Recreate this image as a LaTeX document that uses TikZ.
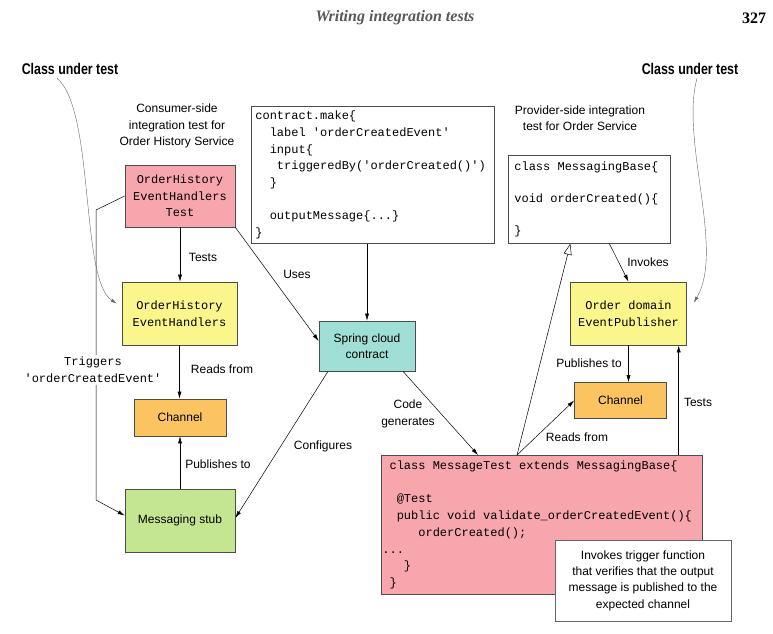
\documentclass[tikz,border=0pt]{standalone}
\usepackage{fontspec}
\setmainfont{Liberation Serif}
\setsansfont{Liberation Sans}
\setmonofont{Liberation Mono}
\newfontfamily\condfont{Liberation Sans}[FakeStretch=0.8]
\usepackage{tikz}
\usetikzlibrary{arrows.meta,positioning}

\definecolor{testpink}{RGB}{247,166,173}
\definecolor{handyellow}{RGB}{250,246,140}
\definecolor{chanorange}{RGB}{251,196,96}
\definecolor{stubgreen}{RGB}{196,229,146}
\definecolor{springteal}{RGB}{160,223,214}

\begin{document}
\begin{tikzpicture}[x=1pt,y=-1pt,
  box/.style={draw=black!70, line width=0.7pt, inner sep=0pt, align=center},
  lbl/.style={font=\sffamily\fontsize{12}{16.5}\selectfont, align=center},
  code/.style={font=\ttfamily\fontsize{12}{16.6}\selectfont, execute at begin node={\spaceskip 7.2pt\relax}},
  hdr/.style={font=\condfont\bfseries\fontsize{15.5}{17}\selectfont},
  arr/.style={draw, line width=0.5pt, -{Latex[length=7pt,width=4pt]}},
  curvearr/.style={draw=black!60, line width=0.4pt, -{Latex[length=6pt,width=3.5pt]}}]

\useasboundingbox (0,0) rectangle (773,633);

% page header
\node[font=\rmfamily\bfseries\itshape\fontsize{16}{18}\selectfont, text=black!65] (head) at (395,18) {Writing integration tests};
\node[font=\rmfamily\bfseries\fontsize{16}{18}\selectfont] (page) at (754,18) {327};

% consumer side
\node[hdr] (cutL) at (70,69) {Class under test};
\node[lbl] (consumer) at (177,126) {Consumer-side\\integration test for\\Order History Service};
\node[box, code, fill=testpink, minimum width=110pt, minimum height=62pt] (test) at (180,196) {OrderHistory\\EventHandlers\\Test};
\node[box, code, fill=handyellow, minimum width=115pt, minimum height=63pt] (handlers) at (179.5,313.5) {OrderHistory\\EventHandlers};
\node[box, lbl, fill=chanorange, minimum width=92pt, minimum height=37pt] (chanL) at (180,417.5) {Channel};
\node[box, lbl, fill=stubgreen, minimum width=110pt, minimum height=63pt] (stub) at (180,520.5) {Messaging stub};

% contract
\node[box, code, fill=white, anchor=north west, align=left, text width=235pt, minimum height=137pt, inner xsep=4pt] (contract) at (251,106) {contract.make\{\\
\phantom{xx}label 'orderCreatedEvent'\\
\phantom{xx}input\{\\
\phantom{xxx}triggeredBy('orderCreated()')\\
\phantom{xx}\}\\
\mbox{}\\
\phantom{xx}outputMessage\{...\}\\
\}};
\node[box, lbl, fill=springteal, minimum width=96pt, minimum height=50pt] (spring) at (367,346) {Spring cloud\\contract};

% provider side
\node[hdr] (cutR) at (690,69) {Class under test};
\node[lbl] (provider) at (580,118) {Provider-side integration\\test for Order Service};
\node[box, code, fill=white, anchor=north west, align=left, text width=150pt, minimum height=88pt, inner xsep=6pt, font=\ttfamily\fontsize{12}{16}\selectfont] (base) at (508,155) {class MessagingBase\{\\
\mbox{}\\
void orderCreated()\{\\
\mbox{}\\
\}};
\node[box, code, fill=handyellow, minimum width=116pt, minimum height=63pt] (pub) at (628.5,313.5) {Order domain\\EventPublisher};
\node[box, lbl, fill=chanorange, minimum width=92pt, minimum height=36pt] (chanR) at (620.5,400.5) {Channel};
\node[box, code, fill=testpink, anchor=north west, align=left, text width=319pt, minimum height=139pt, inner xsep=1pt, font=\ttfamily\fontsize{12}{16.7}\selectfont] (msgtest) at (381,455) {\phantom{x}class MessageTest extends MessagingBase\{\\
\mbox{}\\
\phantom{xx}@Test\\
\phantom{xx}public void validate\_orderCreatedEvent()\{\\
\phantom{xxxxx}orderCreated();\\
...\\
\phantom{xxx}\}\\
\phantom{x}\}};
\node[box, lbl, draw=black!60, fill=white, minimum width=176pt, minimum height=81pt, font=\sffamily\fontsize{12}{16.3}\selectfont] (note) at (643,580.5) {Invokes trigger function\\that verifies that the output\\message is published to the\\expected channel};

% connectors
\path[arr] (test.south) -- (test.south |- handlers.north);
\path[arr] (handlers.south) -- (handlers.south |- chanL.north);
\path[arr] (stub.north) -- (stub.north |- chanL.south);
\path[arr] (test.south east) -- ([yshift=5pt]spring.west);
\path[arr] (spring.north |- contract.south) -- (spring.north);
\path[arr] ([xshift=-39pt]spring.south) -- ([yshift=2.5pt]stub.east);
\path[arr] ([xshift=36pt]spring.south) -- ([xshift=97pt]msgtest.north west);
\path[draw, line width=0.5pt, -{Triangle[open,length=11pt,width=8pt]}] ([xshift=136pt]msgtest.north west) -- ([xshift=-19pt]base.south);
\path[arr] ([xshift=136pt]msgtest.north west) -- (chanR.west);
\path[arr] ([xshift=20pt]base.south) -- (pub.north);
\path[arr] (pub.south) -- (pub.south |- chanR.north);
\coordinate (tt) at ([xshift=-24pt]msgtest.north east);
\path[arr] (tt) -- (tt |- pub.south);

\coordinate (trigA) at (96,210);
\coordinate (trigB) at (96,500);
\path[arr] (test.west) -- (trigA) -- (trigB) -- ([yshift=5pt]stub.west);
\node[code, fill=white, align=center, inner sep=2pt] (trig) at (93,370) {Triggers\\'orderCreatedEvent'};

\path[curvearr] ([xshift=-13pt]cutL.south) .. controls (95,110) and (80,280) .. ([xshift=-5pt,yshift=10pt]handlers.west);
\path[curvearr] ([xshift=7pt]cutR.south) .. controls (680,140) and (725,250) .. ([xshift=7pt,yshift=11pt]pub.east);

% connector labels
\foreach \x/\y/\t [count=\i] in {203/257/Tests, 297/274/Uses, 222/369/Reads from, 218/464/Publishes to,
    323/446/Configures, 408/414/{Code\\generates}, 577/437/Reads from, 648/262/Invokes,
    589/363/Publishes to, 698/402/Tests}
    \node[lbl] (lab\i) at (\x,\y) {\t};

\end{tikzpicture}
\end{document}
